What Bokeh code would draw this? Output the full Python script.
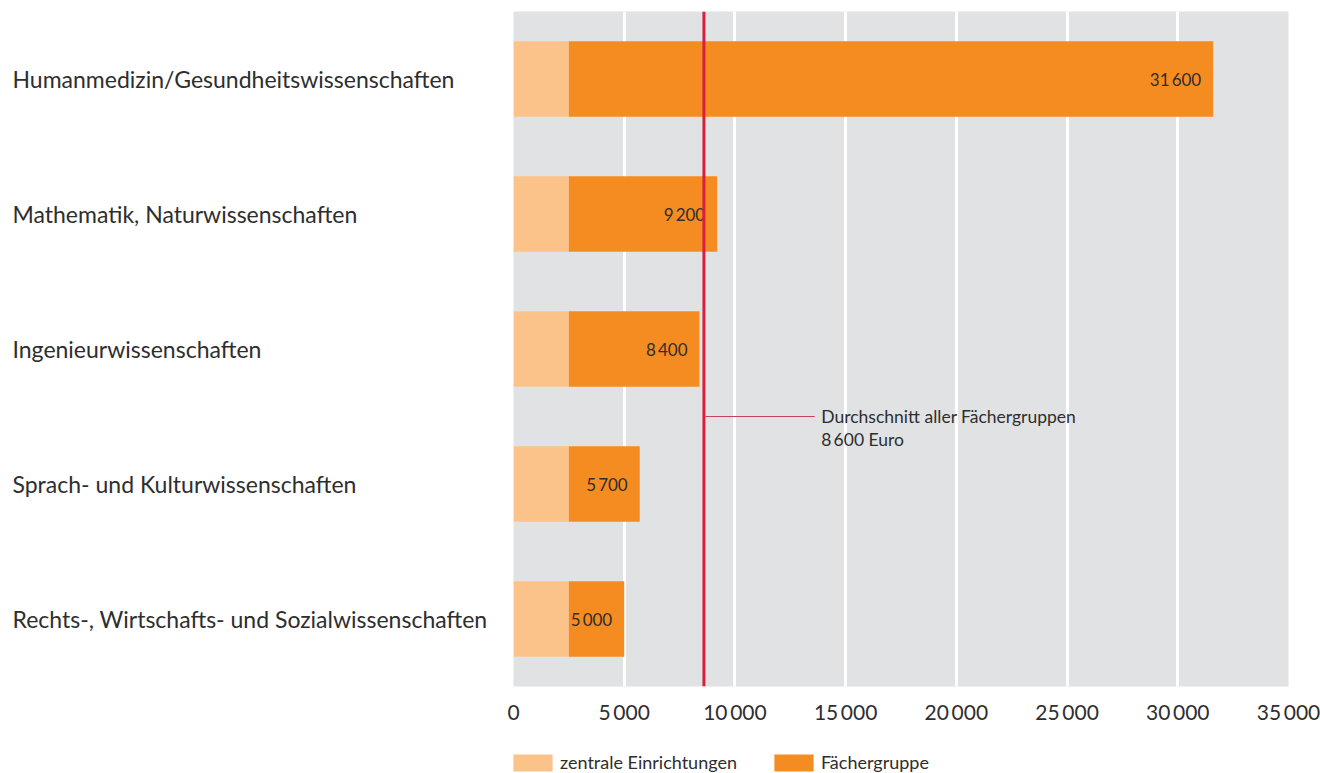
from bokeh.plotting import figure
from bokeh.layouts import row, column
from bokeh.models import Range1d, Span, Legend, LegendItem, ColumnDataSource, FixedTicker
from bokeh.core.properties import value
from bokeh.embed import file_html
from bokeh.resources import INLINE

categories = ["Humanmedizin/Gesundheitswissenschaften",
              "Mathematik, Naturwissenschaften",
              "Ingenieurwissenschaften",
              "Sprach- und Kulturwissenschaften",
              "Rechts-, Wirtschafts- und Sozialwissenschaften"]
zentrale = [2500, 2500, 2500, 2500, 2500]
totals = [31600, 9200, 8400, 5700, 5000]
total_labels = ["31\u2009600", "9\u2009200", "8\u2009400", "5\u2009700", "5\u2009000"]
average = 8600
average_text = ["Durchschnitt aller Fächergruppen", "8\u2009600 Euro"]
ticks = [0, 5000, 10000, 15000, 20000, 25000, 30000, 35000]
tick_labels = ["0", "5\u2009000", "10\u2009000", "15\u2009000", "20\u2009000", "25\u2009000", "30\u2009000", "35\u2009000"]
series_names = ["zentrale Einrichtungen", "Fächergruppe"]

FONT = "Lato"
LIGHT = "#FBC38A"
ORANGE = "#F58C21"
RED = "#D6203D"
TXT = "#2E2E2E"

n = len(categories)
ypos = [n - 1 - i for i in range(n)]
yr = Range1d(-0.5, n - 0.5)
H = 748
LEG_H = 773 - H
TOP, BOTTOM = 11, 62
LAB_W = 495
FRAME_LEFT = 513

# left panel with category names
lab = figure(width=LAB_W, height=H, output_backend="svg", toolbar_location=None,
             x_range=Range1d(0, LAB_W), y_range=yr,
             min_border_left=0, min_border_right=0, min_border_top=TOP, min_border_bottom=BOTTOM)
lab.axis.visible = False
lab.grid.grid_line_color = None
lab.outline_line_color = None
lab.text(x=[12] * n, y=ypos, text=categories, text_align="left", text_baseline="middle",
         text_font=value(FONT), text_font_size="23px", text_color=TXT)

p = figure(width=1320 - LAB_W, height=H, output_backend="svg", toolbar_location=None,
           x_range=Range1d(0, 35000), y_range=yr,
           min_border_left=FRAME_LEFT - LAB_W, min_border_right=32, min_border_top=TOP, min_border_bottom=BOTTOM)
p.background_fill_color = "#E1E2E4"
p.outline_line_color = None
p.yaxis.visible = False
p.ygrid.grid_line_color = None
p.xgrid.grid_line_color = "white"
p.xgrid.grid_line_width = 3
p.xaxis.ticker = FixedTicker(ticks=ticks)
p.xaxis.major_label_overrides = {t: l for t, l in zip(ticks, tick_labels)}
p.xaxis.axis_line_color = None
p.xaxis.major_tick_line_color = None
p.xaxis.minor_tick_line_color = None
p.xaxis.major_label_text_font = FONT
p.xaxis.major_label_text_font_size = "21px"
p.xaxis.major_label_text_color = TXT
p.xaxis.major_label_standoff = 6

src = ColumnDataSource(dict(y=ypos, z=zentrale, t=totals, lab=total_labels))
p.hbar(y="y", left=0, right="z", height=0.56, fill_color=LIGHT, line_color=None, source=src)
p.hbar(y="y", left="z", right="t", height=0.56, fill_color=ORANGE, line_color=None, source=src)
p.text(x="t", y="y", text="lab", source=src, x_offset=-12, text_align="right", text_baseline="middle",
       text_font=value(FONT), text_font_size="17px", text_color=TXT)

p.add_layout(Span(location=average, dimension="height", line_color=RED, line_width=3))
ann_y = 1.5
p.segment(x0=[average + 80], y0=[ann_y], x1=[average + 5000], y1=[ann_y], line_color="#C4425A", line_width=1)
p.text(x=[average + 5300] * 2, y=[ann_y, ann_y - 0.17], text=average_text, text_align="left",
       text_baseline="middle", text_font=value(FONT), text_font_size="17.5px", text_color=TXT)

# legend strip
lg = figure(width=1320, height=LEG_H, output_backend="svg", toolbar_location=None,
            x_range=Range1d(0, 1), y_range=Range1d(0, 1),
            min_border_left=0, min_border_right=0, min_border_top=0, min_border_bottom=0)
lg.axis.visible = False
lg.grid.grid_line_color = None
lg.outline_line_color = None
hidden = dict(y=[5], left=[5], right=[6])
d1 = lg.hbar(y="y", left="left", right="right", height=1, fill_color=LIGHT, line_color=None,
             source=ColumnDataSource(dict(hidden)))
d2 = lg.hbar(y="y", left="left", right="right", height=1, fill_color=ORANGE, line_color=None,
             source=ColumnDataSource(dict(hidden)))
legend = Legend(items=[LegendItem(label=series_names[0], renderers=[d1]),
                       LegendItem(label=series_names[1], renderers=[d2])],
                orientation="horizontal", location=(FRAME_LEFT - 5, 0), padding=0, margin=0,
                glyph_width=49, glyph_height=21, label_height=21, label_standoff=3, spacing=32,
                label_text_font=FONT, label_text_font_size="18px", label_text_color=TXT,
                background_fill_alpha=0, border_line_color=None)
lg.add_layout(legend, "center")

layout = column(row(lab, p, spacing=0), lg, spacing=0)
open("out.html", "w").write(file_html(layout, INLINE))
